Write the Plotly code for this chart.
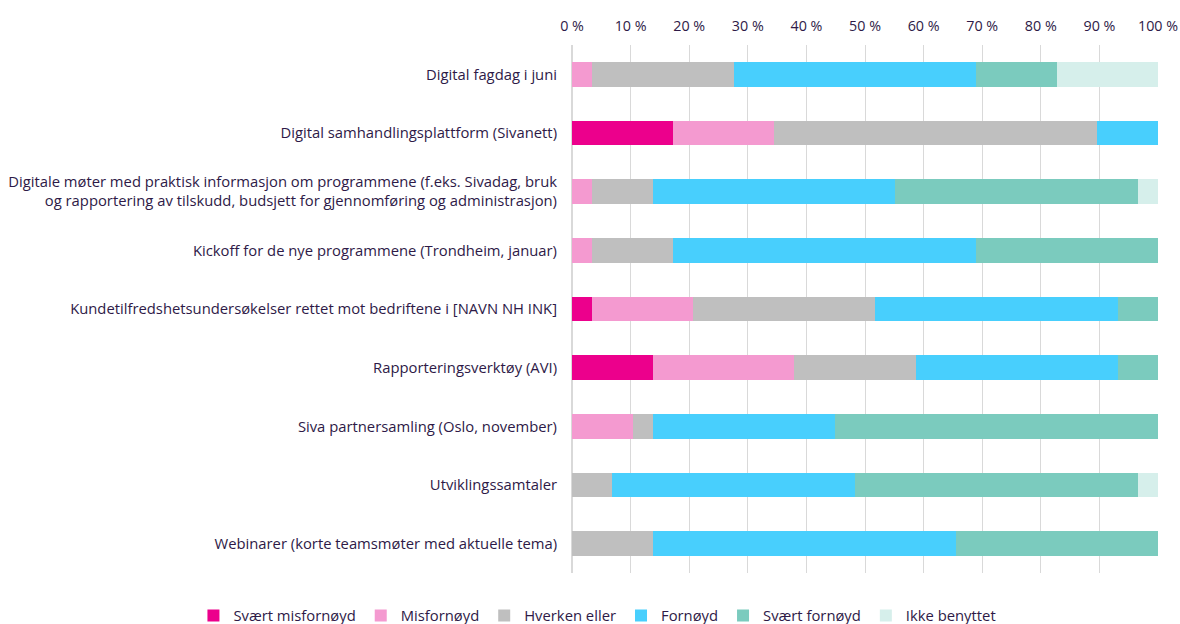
import plotly.graph_objects as go

categories = [
    "Digital fagdag i juni",
    "Digital samhandlingsplattform (Sivanett)",
    "Digitale møter med praktisk informasjon om programmene (f.eks. Sivadag, bruk<br>og rapportering av tilskudd, budsjett for gjennomføring og administrasjon)",
    "Kickoff for de nye programmene (Trondheim, januar)",
    "Kundetilfredshetsundersøkelser rettet mot bedriftene i [NAVN NH INK]",
    "Rapporteringsverktøy (AVI)",
    "Siva partnersamling (Oslo, november)",
    "Utviklingssamtaler",
    "Webinarer (korte teamsmøter med aktuelle tema)",
]

series_names = ["Svært misfornøyd", "Misfornøyd", "Hverken eller", "Fornøyd", "Svært fornøyd", "Ikke benyttet"]
n = 29
svaert_misfornoyd = [0, 5, 0, 0, 1, 4, 0, 0, 0]
misfornoyd =        [1, 5, 1, 1, 5, 7, 3, 0, 0]
hverken_eller =     [7, 16, 3, 4, 9, 6, 1, 2, 4]
fornoyd =           [12, 3, 12, 15, 12, 10, 9, 12, 15]
svaert_fornoyd =    [4, 0, 12, 9, 2, 2, 16, 14, 10]
ikke_benyttet =     [5, 0, 1, 0, 0, 0, 0, 1, 0]

series_values = [svaert_misfornoyd, misfornoyd, hverken_eller, fornoyd, svaert_fornoyd, ikke_benyttet]
colors = ["#EC008C", "#F49AD0", "#BFBFBF", "#48CFFD", "#7BCBBE", "#D6EFEB"]
tick_vals = [0, 10, 20, 30, 40, 50, 60, 70, 80, 90, 100]
tick_text = [f"{v} %" for v in tick_vals]

fig = go.Figure()
for name, vals, col in zip(series_names, series_values, colors):
    fig.add_trace(go.Bar(
        y=categories,
        x=[v / n * 100 for v in vals],
        name=name,
        orientation="h",
        marker=dict(color=col, line=dict(width=0)),
        width=0.42,
    ))

text_color = "#2E1A47"
fig.update_layout(
    barmode="stack",
    width=1180, height=624,
    margin=dict(l=572, r=22, t=45, b=51, autoexpand=False),
    paper_bgcolor="white",
    plot_bgcolor="white",
    font=dict(family="Open Sans, Lato, sans-serif", size=14.8, color=text_color),
    xaxis=dict(
        side="top",
        range=[0, 100],
        tickvals=tick_vals,
        ticktext=tick_text,
        showgrid=True,
        gridcolor="#D9D9D9",
        gridwidth=1,
        zeroline=True,
        zerolinecolor="#D9D9D9",
        tickfont=dict(family="Open Sans, sans-serif", size=14.3, color=text_color),
        ticklabelstandoff=10,
        automargin=False,
    ),
    yaxis=dict(
        autorange="reversed",
        tickfont=dict(size=14.8, color=text_color),
        ticklabelstandoff=14,
        showgrid=False,
        automargin=False,
    ),
    legend=dict(
        orientation="h",
        x=-0.646, xanchor="left",
        y=-0.081, yanchor="middle",
        font=dict(size=14.8, color=text_color),
        traceorder="normal",
        itemwidth=30,
    ),
)

fig.write_html(
    "out.html",
    config={"displayModeBar": False},
    post_script="document.body.style.margin = '0';",
)
